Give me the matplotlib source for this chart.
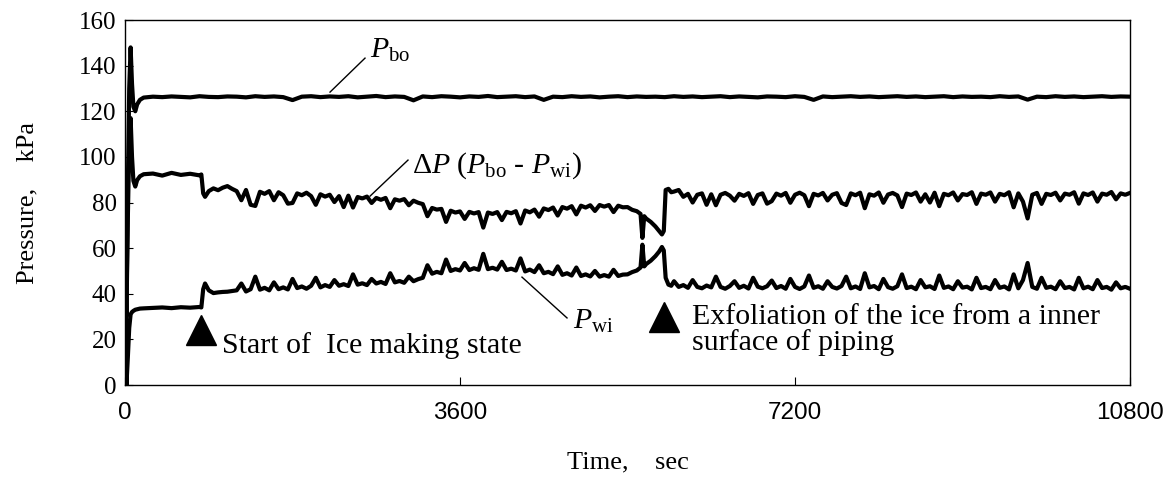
import matplotlib
matplotlib.use('Agg')
import matplotlib.pyplot as plt

# ---- P_bo (kPa), own sampling times (sec) ----
time_bo = [0, 15, 30, 45, 60, 75, 90, 110, 130, 160, 200,
           300, 400, 500, 600, 700, 800, 900, 1000, 1100, 1200,
           1300, 1400, 1500, 1600, 1700, 1800, 1900, 2000, 2100, 2200,
           2300, 2400, 2500, 2600, 2700, 2800, 2900, 3000, 3100, 3200,
           3300, 3400, 3500, 3600, 3700, 3800, 3900, 4000, 4100, 4200,
           4300, 4400, 4500, 4600, 4700, 4800, 4900, 5000, 5100, 5200,
           5300, 5400, 5500, 5600, 5700, 5800, 5900, 6000, 6100, 6200,
           6300, 6400, 6500, 6600, 6700, 6800, 6900, 7000, 7100, 7200,
           7300, 7400, 7500, 7600, 7700, 7800, 7900, 8000, 8100, 8200,
           8300, 8400, 8500, 8600, 8700, 8800, 8900, 9000, 9100, 9200,
           9300, 9400, 9500, 9600, 9700, 9800, 9900, 10000, 10100, 10200,
           10300, 10400, 10500, 10600, 10700, 10800]
p_bo = [61, 30, 85, 130, 148, 132, 122, 120, 123, 125, 126,
        126.4, 126.2, 126.5, 126.3, 126.1, 126.6, 126.3, 126.2, 126.5, 126.4,
        126.1, 126.6, 126.3, 126.5, 126.2, 124.9, 126.4, 126.6, 126.2, 126.5,
        126.3, 126.6, 126.1, 126.4, 126.7, 126.2, 126.5, 126.3, 124.8, 126.5,
        126.2, 126.6, 126.4, 126.1, 126.5, 126.3, 126.7, 126.2, 126.4, 126.6,
        126.2, 126.5, 125.0, 126.4, 126.2, 126.6, 126.3, 126.5, 126.1, 126.4,
        126.6, 126.2, 126.5, 126.3, 126.4, 126.2, 126.6, 126.3, 126.5, 126.2,
        126.4, 126.6, 126.2, 126.5, 126.3, 126.1, 126.5, 126.4, 126.2, 126.6,
        126.3, 125.0, 126.5, 126.2, 126.4, 126.6, 126.3, 126.5, 126.2, 126.4,
        126.6, 126.3, 126.5, 126.2, 126.4, 126.6, 126.2, 126.5, 126.3, 126.4,
        126.2, 126.6, 126.3, 126.5, 125.1, 126.4, 126.2, 126.6, 126.3, 126.5,
        126.2, 126.4, 126.6, 126.3, 126.5, 126.4]

# ---- P_wi and dP, shared sampling times (sec) ----
time_s = [0, 15, 30, 45, 60, 75, 90, 110, 130, 160, 200,
          300, 400, 500, 600, 700, 800, 820,
          840, 860, 900, 950, 1000, 1050, 1100, 1150,
          1200, 1250, 1300, 1350, 1400, 1450, 1500, 1550, 1600, 1650,
          1700, 1750, 1800, 1850, 1900, 1950, 2000, 2050, 2100, 2150,
          2200, 2250, 2300, 2350, 2400, 2450, 2500, 2550, 2600, 2650,
          2700, 2750, 2800, 2850, 2900, 2950, 3000, 3050, 3100, 3150,
          3200, 3250, 3300, 3350, 3400, 3450, 3500, 3550, 3600, 3650,
          3700, 3750, 3800, 3850, 3900, 3950, 4000, 4050, 4100, 4150,
          4200, 4250, 4300, 4350, 4400, 4450, 4500, 4550, 4600, 4650,
          4700, 4750, 4800, 4850, 4900, 4950, 5000, 5050, 5100, 5150,
          5200, 5250, 5300, 5350, 5400, 5450, 5500,
          5540, 5560, 5580, 5600, 5650, 5700, 5740, 5770, 5790, 5810,
          5840, 5870, 5900, 5950,
          6000, 6050, 6100, 6150, 6200, 6250, 6300, 6350, 6400, 6450,
          6500, 6550, 6600, 6650, 6700, 6750, 6800, 6850, 6900, 6950,
          7000, 7050, 7100, 7150, 7200, 7250, 7300, 7350, 7400, 7450,
          7500, 7550, 7600, 7650, 7700, 7750, 7800, 7850, 7900, 7950,
          8000, 8050, 8100, 8150, 8200, 8250, 8300, 8350, 8400, 8450,
          8500, 8550, 8600, 8650, 8700, 8750, 8800, 8850, 8900, 8950,
          9000, 9050, 9100, 9150, 9200, 9250, 9300, 9350, 9400, 9450,
          9500, 9550, 9600, 9650, 9700, 9750, 9800, 9850, 9900, 9950,
          10000, 10050, 10100, 10150, 10200, 10250, 10300, 10350, 10400, 10450,
          10500, 10550, 10600, 10650, 10700, 10750, 10800]

p_wi = [61, 0, 12, 25, 31, 32, 32.5, 33, 33.2, 33.5, 33.6,
        33.8, 34.0, 33.7, 34.1, 33.9, 34.2, 34.0,
        42.0, 44.5, 41.5, 40.3, 40.6, 40.8, 40.9, 41.2,
        41.5, 44.5, 41.0, 42.0, 47.5, 41.8, 42.6, 41.5, 45.0, 42.0,
        42.8, 41.9, 46.5, 42.5, 43.2, 42.2, 43.5, 47.0, 42.8, 43.8,
        43.0, 46.0, 43.5, 44.2, 43.4, 48.5, 44.0, 44.6, 43.8, 46.5,
        44.5, 45.2, 44.3, 49.0, 45.0, 45.6, 44.8, 47.5, 45.5, 46.4,
        47.0, 52.5, 48.8, 49.6, 49.0, 55.0, 50.0, 50.8, 50.2, 53.5,
        50.4, 51.2, 50.5, 57.5, 50.8, 51.4, 50.6, 54.0, 50.4, 51.0,
        50.2, 55.5, 49.8, 50.6, 49.5, 52.5, 49.0, 49.6, 48.6, 52.0,
        48.3, 49.0, 48.0, 51.5, 47.8, 48.5, 47.6, 50.0, 47.5, 48.2,
        47.5, 50.5, 47.8, 48.4, 48.5, 49.5, 50.2,
        51.5, 61.5, 52.0, 53.0, 54.5, 56.5, 58.5, 60.5, 59.0, 47.0,
        44.0, 43.5, 45.5, 43.0,
        43.8, 42.6, 46.0, 43.0, 42.4, 43.6, 42.8, 47.5, 43.0, 42.2,
        43.4, 45.5, 42.6, 43.5, 42.3, 47.0, 43.1, 42.4, 43.3, 45.8,
        42.5, 43.4, 42.2, 46.5, 43.0, 42.1, 43.2, 48.0, 42.6, 43.3,
        42.2, 45.5, 43.0, 42.3, 43.4, 47.5, 42.4, 43.2, 42.1, 49.0,
        42.8, 43.4, 42.0, 46.5, 42.9, 42.2, 43.3, 48.5, 42.5, 43.1,
        42.0, 46.0, 42.8, 43.3, 42.1, 48.0, 42.6, 43.2, 42.0, 45.5,
        42.7, 43.1, 41.9, 47.0, 42.5, 43.0, 42.0, 46.0, 42.6, 43.2,
        41.9, 48.5, 42.4, 46.0, 53.5, 43.0, 42.2, 47.0, 42.6, 43.1,
        42.0, 45.5, 42.5, 43.0, 41.9, 47.0, 42.4, 43.1, 42.0, 46.0,
        42.5, 43.0, 41.8, 45.0, 42.4, 43.0, 42.2]

dp = [0, 30, 73, 105, 117, 100, 89.5, 87, 89.8, 91.5, 92.4,
      92.7, 91.8, 93.0, 92.1, 92.6, 91.9, 92.3,
      84.0, 82.5, 85.0, 86.2, 85.4, 86.5, 87.2, 86.0,
      85.0, 81.0, 85.5, 79.0, 78.5, 84.7, 83.8, 85.0, 81.0, 84.5,
      83.2, 79.5, 79.8, 84.0, 83.2, 84.3, 82.8, 79.0, 83.6, 82.6,
      83.4, 80.2, 82.8, 78.0, 83.0, 77.8, 82.4, 81.8, 82.6, 79.8,
      82.0, 81.2, 82.0, 77.5, 81.4, 80.8, 81.5, 78.8, 80.8, 79.9,
      79.3, 74.0, 77.6, 76.9, 77.2, 71.5, 76.4, 75.6, 76.1, 72.8,
      75.9, 75.2, 75.8, 69.0, 75.6, 75.0, 75.8, 72.3, 75.9, 75.3,
      76.2, 70.8, 76.5, 75.7, 76.9, 73.8, 77.4, 76.7, 77.8, 74.3,
      78.0, 77.3, 78.4, 74.8, 78.6, 77.8, 78.8, 76.3, 78.9, 78.2,
      78.9, 75.8, 78.6, 77.9, 78.0, 76.8, 76.2,
      75.0, 64.5, 74.0, 73.0, 71.5, 69.5, 67.5, 66.0, 67.5, 85.5,
      86.0, 84.5, 84.8, 85.5,
      82.5, 83.8, 80.0, 83.4, 84.0, 79.0, 83.6, 78.8, 83.4, 84.2,
      83.0, 80.8, 83.8, 82.9, 84.1, 79.4, 83.3, 84.0, 79.5, 80.6,
      83.9, 83.0, 84.2, 79.9, 83.4, 84.3, 83.2, 78.4, 83.8, 83.1,
      84.2, 80.9, 83.4, 84.1, 79.8, 78.9, 84.0, 83.2, 84.3, 77.5,
      83.6, 83.0, 84.4, 79.9, 83.5, 84.2, 83.1, 78.0, 83.9, 83.3,
      84.4, 80.4, 83.6, 80.0, 84.3, 78.4, 83.8, 83.2, 84.4, 80.9,
      83.7, 83.3, 84.5, 79.4, 83.9, 83.4, 84.4, 80.4, 83.8, 83.2,
      84.5, 77.9, 84.0, 80.4, 73.0, 83.4, 84.2, 79.4, 83.8, 83.3,
      84.3, 80.9, 83.9, 83.4, 84.5, 79.5, 84.0, 83.3, 84.4, 80.4,
      83.9, 83.4, 84.6, 81.4, 84.0, 83.4, 84.2]

x_ticks = [0, 3600, 7200, 10800]
y_ticks = [0, 20, 40, 60, 80, 100, 120, 140, 160]


def main():
    plt.rcParams['font.family'] = ['Liberation Serif', 'DejaVu Serif']
    plt.rcParams['mathtext.fontset'] = 'custom'
    plt.rcParams['mathtext.rm'] = 'Liberation Serif'
    plt.rcParams['mathtext.it'] = 'Liberation Serif:italic'

    fig = plt.figure(figsize=(11.74, 4.86), dpi=100)
    ax = fig.add_axes([0.1065, 0.2078, 0.856, 0.751])

    lw = 3.0
    ax.plot(time_bo, p_bo, color='black', lw=lw)
    ax.plot(time_s, dp, color='black', lw=lw)
    ax.plot(time_s, p_wi, color='black', lw=lw)

    ax.set_xlim(0, 10800)
    ax.set_ylim(0, 160)
    ax.set_xticks(x_ticks)
    ax.set_yticks(y_ticks)
    ax.tick_params(axis='both', direction='in', length=6, width=0.8)
    ax.tick_params(axis='x', pad=12, labelsize=17.5)
    ax.tick_params(axis='y', pad=6, labelsize=18)
    for lab in ax.get_xticklabels():
        lab.set_fontfamily(['Liberation Sans Narrow', 'Liberation Sans'])
    for s in ax.spines.values():
        s.set_linewidth(1.0)

    ax.set_xlabel('Time,    sec', fontsize=19, labelpad=20)
    ax.set_ylabel('Pressure,    kPa', fontsize=19)
    ax.yaxis.set_label_coords(-0.086, 0.5)

    fs = 21.5
    # curve labels with leader lines
    ax.text(2633, 143.3, r'$P_{\rm bo}$', fontsize=fs, va='baseline')
    ax.plot([2579, 2203], [143.3, 128.4], color='black', lw=1)
    ax.text(3084, 92.9, r'$\Delta P\ (P_{\rm bo}$ - $P_{\rm wi})$', fontsize=fs, va='baseline')
    ax.plot([3041, 2633], [98.6, 82.8], color='black', lw=1)
    ax.text(4814, 24.5, r'$P_{\rm wi}$', fontsize=fs, va='baseline')
    ax.plot([4750, 4266], [29.4, 47.3], color='black', lw=1)

    # event markers
    ax.plot([817], [24.0], marker='^', color='black', ms=21, clip_on=False)
    ax.text(1042, 14.0, 'Start of  Ice making state', fontsize=fs, va='baseline')
    ax.plot([5792], [30.0], marker='^', color='black', ms=21, clip_on=False)
    ax.text(6093, 15.3, 'Exfoliation of the ice from a inner\nsurface of piping',
            fontsize=fs, va='baseline', linespacing=0.95)

    fig.savefig('out.png', dpi=100)


if __name__ == '__main__':
    main()
